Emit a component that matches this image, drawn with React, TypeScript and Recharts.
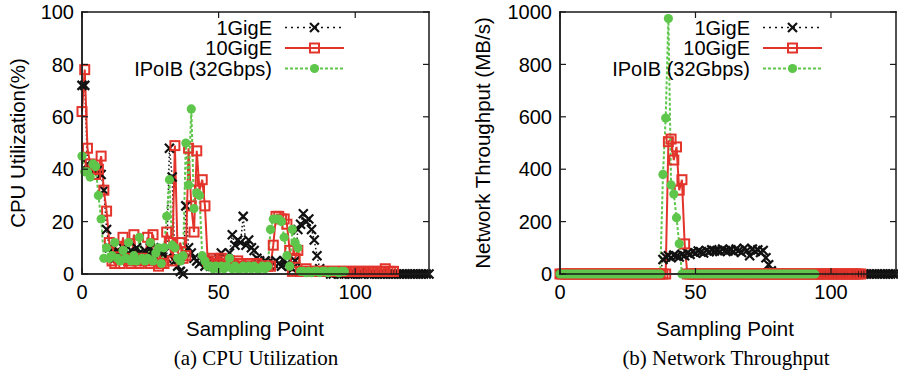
import React from 'react';
import { LineChart, Line, XAxis, YAxis, Legend } from 'recharts';

// CPU utilization (%) per sampling point
const cpu1GigE = [
  72, 72, 42, 40, 41, 39, 40, 38, 32, 17,
  10, 8, 6, 9, 7, 10, 6, 8, 9, 7,
  10, 8, 6, 9, 7, 10, 8, 6, 9, 10,
  8, 6, 48, 37, 5, 3, 1, 0, 26, 10,
  8, 6, 5, 4, 5, 3, 4, 3, 5, 4,
  6, 8, 5, 4, 8, 15, 11, 13, 12, 22,
  11, 13, 10, 9, 6, 5, 4, 5, 4, 3,
  4, 5, 4, 3, 5, 4, 3, 2, 5, 17,
  19, 23, 20, 21, 17, 13, 7, 2, 1, 1,
  1, 0, 0, 0.5, 0, 0, 0, 0.5, 0, 0,
  0, 0, 0, 0, 1, 0, 0, 0, 0, 0,
  0, 0, 0, 0, 0, 0, 0, 0, 0, 0,
  0, 0, 0, 0, 0, 0, 0, 0,
];
const cpu10GigE = [
  62, 78, 48, 42, 40, 38, 40, 45, 32, 24,
  12, 5, 4, 10, 4, 14, 6, 5, 4, 15,
  5, 4, 6, 5, 14, 4, 15, 5, 3, 4,
  4, 16, 12, 5, 49, 8, 12, 6, 7, 48,
  26, 16, 47, 32, 36, 26, 5, 4, 6, 5,
  4, 6, 5, 4, 5, 4, 3, 5, 4, 3,
  3, 4, 3, 3, 4, 3, 3, 3, 3, 3,
  11, 22, 22, 21, 21, 19, 9, 1, 6, 9,
  1, 1, 2, 1, 1, 1, 1, 1, 1, 1,
  1, 1, 1, 1, 1, 1, 1, 1, 1, 1,
  1, 1, 1, 1, 1, 1, 1, 1, 1, 1,
  1, 2, 1, 1, 1,
];
const cpuIPoIB = [
  45, 39, 39, 37, 42, 41, 30, 21, 6, 10,
  6, 7, 12, 6, 5, 9, 6, 12, 5, 7,
  5, 14, 6, 5, 6, 12, 5, 8, 10, 4,
  10, 22, 36, 11, 10, 6, 5, 7, 50, 34,
  63, 25, 31, 30, 7, 5, 3, 3, 2, 3,
  2, 3, 2, 3, 6, 2, 3, 2, 2, 3,
  2, 3, 2, 3, 2, 2, 3, 2, 3, 17,
  21, 21, 21, 20, 14, 7, 3, 17, 12, 10,
  1, 1, 0.5, 1, 0.5, 1, 1, 0.5, 1, 1,
  0.5, 1, 1, 1, 0.5, 1, 1,
];

// Network throughput (MB/s) per sampling point
const net1GigE = [
  0, 0, 0, 0, 0, 0, 0, 0, 0, 0,
  0, 0, 0, 0, 0, 0, 0, 0, 0, 0,
  0, 0, 0, 0, 0, 0, 0, 0, 0, 0,
  0, 0, 0, 0, 0, 0, 0, 0, 55, 65,
  70, 62, 72, 68, 65, 75, 70, 80, 75, 85,
  80, 88, 84, 80, 90, 85, 92, 88, 90, 86,
  95, 90, 88, 92, 86, 95, 90, 82, 98, 90,
  70, 95, 86, 92, 82, 90, 62, 35, 12, 0,
  0, 0, 0, 0, 0, 0, 0, 0, 0, 0,
  0, 0, 0, 0, 0, 0, 0, 0, 0, 0,
  0, 0, 0, 0, 0, 0, 0, 0, 0, 0,
  0, 0, 0, 0, 0, 0, 0, 0, 0, 0,
  0, 0, 0, 0, 0,
];
const net10GigE = [
  0, 0, 0, 0, 0, 0, 0, 0, 0, 0,
  0, 0, 0, 0, 0, 0, 0, 0, 0, 0,
  0, 0, 0, 0, 0, 0, 0, 0, 0, 0,
  0, 0, 0, 0, 0, 0, 0, 0, 0, 0,
  505, 515, 435, 485, 320, 360, 115, 0, 0, 0,
  0, 0, 0, 0, 0, 0, 0, 0, 0, 0,
  0, 0, 0, 0, 0, 0, 0, 0, 0, 0,
  0, 0, 0, 0, 0, 0, 0, 0, 0, 0,
  0, 0, 0, 0, 0, 0, 0, 0, 0, 0,
  0, 0, 0, 0, 0, 0, 0, 0, 0, 0,
  0, 0, 0, 0, 0, 0, 0, 0, 0, 0,
  0, 0,
];
const netIPoIB = [
  0, 0, 0, 0, 0, 0, 0, 0, 0, 0,
  0, 0, 0, 0, 0, 0, 0, 0, 0, 0,
  0, 0, 0, 0, 0, 0, 0, 0, 0, 0,
  0, 0, 0, 0, 0, 0, 0, 0, 380, 595,
  975, 340, 305, 215, 115, 0, 0, 0, 0, 0,
  0, 0, 0, 0, 0, 0, 0, 0, 0, 0,
  0, 0, 0, 0, 0, 0, 0, 0, 0, 0,
  0, 0, 0, 0, 0, 0, 0, 0, 0, 0,
  0, 0, 0, 0, 0, 0, 0, 0, 0, 0,
  0, 0, 0, 0, 0,
];

const seriesNames = ['1GigE', '10GigE', 'IPoIB (32Gbps)'];
const xTicks = [0, 50, 100];
const cpuTicks = [0, 20, 40, 60, 80, 100];
const netTicks = [0, 200, 400, 600, 800, 1000];

const SANS = '"Liberation Sans", Arial, Helvetica, sans-serif';
const SERIF = '"Liberation Serif", "Times New Roman", serif';
const RED = '#e3342b';
const GREEN = '#5ec64b';
const BLACK = '#111111';

const CHART_W = 449;
const CHART_H = 310;
const PLOT_TOP = 12;
const PLOT_BOTTOM = 274;
const TICK_LEN = 6;
const BORDER = 1.5;

function buildRows(a: number[], b: number[], c: number[]) {
  const n = Math.max(a.length, b.length, c.length);
  const rows: Record<string, number | undefined>[] = [];
  for (let i = 0; i < n; i++) {
    rows.push({ x: i, g1: a[i], g10: b[i], ib: c[i] });
  }
  return rows;
}

const cpuRows = buildRows(cpu1GigE, cpu10GigE, cpuIPoIB);
const netRows = buildRows(net1GigE, net10GigE, netIPoIB);

const bad = (v: any) => v == null || Number.isNaN(v);

const CrossDot = (p: any) => {
  const { cx, cy, index } = p;
  if (bad(cx) || bad(cy)) return <g key={`c${index}`} />;
  const s = 4.5;
  return (
    <path
      key={`c${index}`}
      d={`M${cx - s},${cy - s}L${cx + s},${cy + s}M${cx - s},${cy + s}L${cx + s},${cy - s}`}
      stroke={BLACK}
      strokeWidth={2.2}
      fill="none"
    />
  );
};

const SquareDot = (p: any) => {
  const { cx, cy, index } = p;
  if (bad(cx) || bad(cy)) return <g key={`s${index}`} />;
  return (
    <rect key={`s${index}`} x={cx - 4.5} y={cy - 4.5} width={9} height={9}
      stroke={RED} strokeWidth={2} fill="none" />
  );
};

const CircleDot = (p: any) => {
  const { cx, cy, index } = p;
  if (bad(cx) || bad(cy)) return <g key={`o${index}`} />;
  return <circle key={`o${index}`} cx={cx} cy={cy} r={4.6} fill={GREEN} />;
};

function LegendBox({ textRight }: { textRight: number }) {
  const rowsY = [27.5, 48, 68.5];
  const x0 = textRight + 13;
  const x1 = textRight + 72;
  const xm = (x0 + x1) / 2;
  return (
    <svg width={CHART_W} height={90} style={{ display: 'block' }}>
      {seriesNames.map((name, i) => (
        <text key={name} x={textRight} y={rowsY[i]} textAnchor="end" dominantBaseline="central"
          fontFamily={SANS} fontSize={20} fill="#000">{name}</text>
      ))}
      <line x1={x0} x2={x1} y1={rowsY[0]} y2={rowsY[0]} stroke={BLACK} strokeWidth={1.6} strokeDasharray="2 4" />
      {CrossDot({ cx: xm, cy: rowsY[0], index: 'l' })}
      <line x1={x0} x2={x1} y1={rowsY[1]} y2={rowsY[1]} stroke={RED} strokeWidth={2} />
      {SquareDot({ cx: xm, cy: rowsY[1], index: 'l' })}
      <line x1={x0} x2={x1} y1={rowsY[2]} y2={rowsY[2]} stroke={GREEN} strokeWidth={2} strokeDasharray="3 2" />
      {CircleDot({ cx: xm, cy: rowsY[2], index: 'l' })}
    </svg>
  );
}

// Plot border and inward, mirrored gnuplot-style ticks, as thin filled bars
function frameBars(key: string, left: number, right: number, xMax: number, yMax: number, yTicks: number[]) {
  const sx = (v: number) => left + (v / xMax) * (right - left);
  const sy = (v: number) => PLOT_BOTTOM - (v / yMax) * (PLOT_BOTTOM - PLOT_TOP);
  const h = BORDER / 2;
  const bars: [number, number, number, number][] = [
    [left - h, PLOT_TOP - h, right - left + BORDER, BORDER],
    [right - h, PLOT_TOP - h, BORDER, PLOT_BOTTOM - PLOT_TOP + BORDER],
    [left - h, PLOT_TOP - h, BORDER, PLOT_BOTTOM - PLOT_TOP + BORDER],
    [left - h, PLOT_BOTTOM - h, right - left + BORDER, BORDER],
  ];
  xTicks.forEach((t) => {
    bars.push([sx(t) - 0.6, PLOT_BOTTOM - TICK_LEN, 1.2, TICK_LEN]);
    bars.push([sx(t) - 0.6, PLOT_TOP, 1.2, TICK_LEN]);
  });
  yTicks.forEach((t) => {
    bars.push([left, sy(t) - 0.6, TICK_LEN, 1.2]);
    bars.push([right - TICK_LEN, sy(t) - 0.6, TICK_LEN, 1.2]);
  });
  return bars.map(([x, y, w, hh], i) => (
    <rect key={`${key}${i}`} x={x} y={y} width={w} height={hh} fill="#1a1a1a" />
  ));
}

interface PanelProps {
  rows: Record<string, number | undefined>[];
  xMax: number;
  yMax: number;
  yTicks: number[];
  yAxisWidth: number;
  rightMargin: number;
  legendRight: number;
}

function Panel({ rows, xMax, yMax, yTicks, yAxisWidth, rightMargin, legendRight }: PanelProps) {
  const tick = { fontFamily: SANS, fontSize: 20, fill: '#000' };
  return (
    <LineChart width={CHART_W} height={CHART_H} data={rows}
      margin={{ top: PLOT_TOP, right: rightMargin, bottom: 0, left: 0 }}>
      <XAxis dataKey="x" type="number" domain={[0, xMax]} ticks={xTicks} interval={0}
        height={CHART_H - PLOT_BOTTOM} tickSize={0} tickMargin={11} tickLine={false} tick={tick}
        axisLine={{ stroke: '#000', strokeWidth: 1.2 }} />
      <YAxis type="number" domain={[0, yMax]} ticks={yTicks} interval={0}
        width={yAxisWidth} tickSize={0} tickMargin={8} tickLine={false} tick={tick}
        axisLine={{ stroke: '#000', strokeWidth: 1.2 }} />
      <Legend layout="vertical" align="center" verticalAlign="middle"
        wrapperStyle={{ left: 0, top: 0, width: CHART_W, height: 90 }}
        content={() => <LegendBox textRight={legendRight} />} />
      <Line type="linear" dataKey="g1" name={seriesNames[0]} stroke={BLACK} strokeWidth={1.5}
        strokeDasharray="1.5 2.5" dot={CrossDot} activeDot={false} isAnimationActive={false} />
      <Line type="linear" dataKey="g10" name={seriesNames[1]} stroke={RED} strokeWidth={2}
        dot={SquareDot} activeDot={false} isAnimationActive={false} />
      <Line type="linear" dataKey="ib" name={seriesNames[2]} stroke={GREEN} strokeWidth={2}
        strokeDasharray="3 2" dot={CircleDot} activeDot={false} isAnimationActive={false} />
    </LineChart>
  );
}

export default function App() {
  return (
    <div style={{ position: 'absolute', left: 0, top: 0, width: 898, height: 377, background: '#fff' }}>
      <div style={{ position: 'absolute', left: 0, top: 0 }}>
        <Panel rows={cpuRows} xMax={127} yMax={100} yTicks={cpuTicks}
          yAxisWidth={82} rightMargin={20} legendRight={272} />
      </div>
      <div style={{ position: 'absolute', left: 449, top: 0 }}>
        <Panel rows={netRows} xMax={124} yMax={1000} yTicks={netTicks}
          yAxisWidth={111} rightMargin={2} legendRight={301} />
      </div>
      <svg width={898} height={377} style={{ position: 'absolute', left: 0, top: 0, pointerEvents: 'none' }}>
        {frameBars('a', 82, 429, 127, 100, cpuTicks)}
        {frameBars('b', 560, 896, 124, 1000, netTicks)}
        <text x={17} y={143} transform="rotate(-90 17 143)" textAnchor="middle" dominantBaseline="central"
          fontFamily={SANS} fontSize={20.5}>CPU Utilization(%)</text>
        <text x={482} y={143} transform="rotate(-90 482 143)" textAnchor="middle" dominantBaseline="central"
          fontFamily={SANS} fontSize={20.5}>Network Throughput (MB/s)</text>
        <text x={255} y={336} textAnchor="middle" fontFamily={SANS} fontSize={20.5}>Sampling Point</text>
        <text x={725} y={336} textAnchor="middle" fontFamily={SANS} fontSize={20.5}>Sampling Point</text>
        <text x={256} y={365} textAnchor="middle" fontFamily={SERIF} fontSize={21}>(a) CPU Utilization</text>
        <text x={726} y={365} textAnchor="middle" fontFamily={SERIF} fontSize={21}>(b) Network Throughput</text>
      </svg>
    </div>
  );
}
